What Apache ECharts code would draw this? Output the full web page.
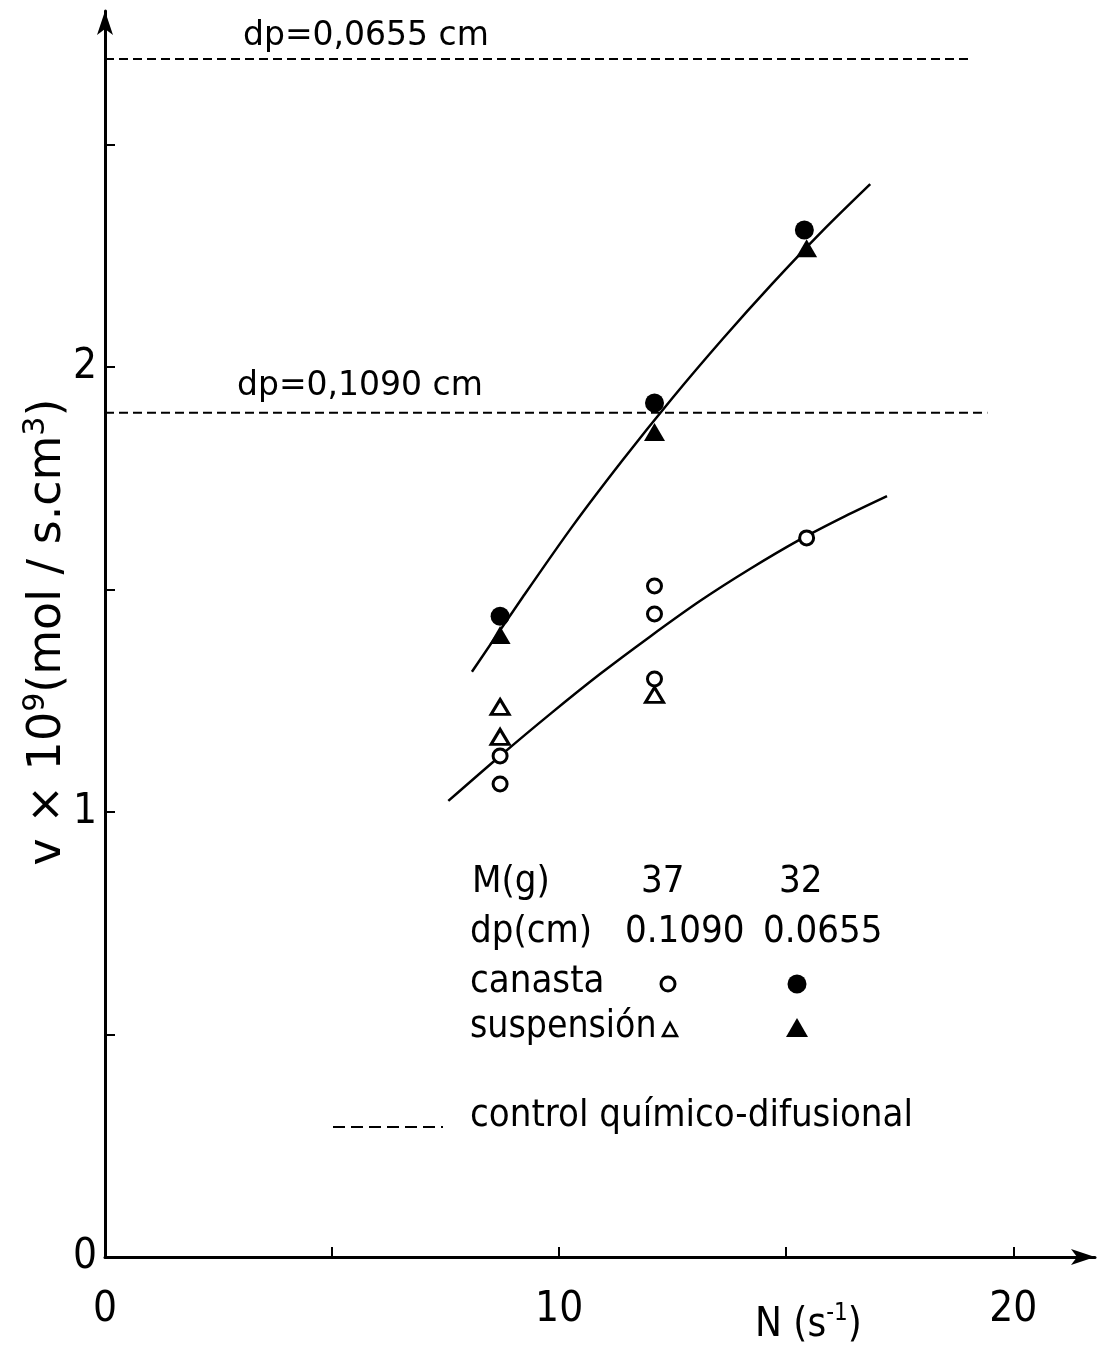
<!DOCTYPE html>
<html><head><meta charset="utf-8">
<script src="https://cdn.jsdelivr.net/npm/echarts@6/dist/echarts.min.js"></script>
<style>html,body{margin:0;padding:0;background:#fff}#c{width:1104px;height:1350px}</style>
</head><body><div id="c"></div>
<script>
// ---- data ----
const xTicks = [0, 5, 10, 15, 20];
const xTickLabels = [0, 10, 20];
const yTicks = [0, 0.5, 1, 1.5, 2, 2.5];
const yTickLabels = [0, 1, 2];

// canasta dp=0.0655 (filled circles)
const canastaFine = [[8.7, 1.440], [12.1, 1.919], [15.4, 2.308]];
// suspension dp=0.0655 (filled triangles)
const suspFine = [[8.7, 1.398], [12.1, 1.854], [15.45, 2.267]];
// canasta dp=0.1090 (open circles)
const canastaCoarse = [[8.7, 1.126], [8.7, 1.063], [12.1, 1.508], [12.1, 1.445], [12.1, 1.299], [15.45, 1.616]];
// suspension dp=0.1090 (open triangles)
const suspCoarse = [[8.7, 1.236], [8.7, 1.169], [12.1, 1.263]];

// hand-drawn fit curves
const fitUpper = [[8.08, 1.315], [9.2, 1.483], [10.3, 1.643], [11.4, 1.791], [12.5, 1.931], [13.6, 2.063], [14.7, 2.188], [15.8, 2.306], [16.85, 2.411]];
const fitLower = [[7.56, 1.025], [8.7, 1.126], [9.8, 1.220], [10.9, 1.310], [12.0, 1.394], [13.1, 1.474], [14.2, 1.546], [15.3, 1.612], [16.3, 1.665], [17.22, 1.710]];

// chemical-diffusional control limits
const limitFine = [[0, 2.692], [19.05, 2.692]];
const limitCoarse = [[0, 1.897], [19.43, 1.897]];

const NARROW = "'Liberation Sans Narrow', 'DejaVu Sans Condensed', 'Liberation Sans', sans-serif";
const WIDE = "'DejaVu Sans', sans-serif";

const chart = echarts.init(document.getElementById('c'));
const dash = [9, 5];
const LF = "38px " + NARROW;
chart.setOption({
  animation: false,
  backgroundColor: '#fff',
  grid: { left: 105, top: 11, width: 990, height: 1246, containLabel: false },
  xAxis: {
    type: 'value', min: 0, max: 21.8,
    splitLine: { show: false },
    axisLine: { show: true, lineStyle: { color: '#000', width: 3 }, symbol: ['none', 'arrow'], symbolSize: [12, 24] },
    axisTick: { show: true, inside: true, length: 10, lineStyle: { color: '#000', width: 2 }, customValues: xTicks },
    axisLabel: { show: true, color: '#000', fontFamily: NARROW, fontSize: 42, margin: 32, customValues: xTickLabels },
  },
  yAxis: {
    type: 'value', min: 0, max: 2.8,
    splitLine: { show: false },
    axisLine: { show: true, lineStyle: { color: '#000', width: 3 }, symbol: ['none', 'arrow'], symbolSize: [12, 24] },
    axisTick: { show: true, inside: true, length: 10, lineStyle: { color: '#000', width: 2 }, customValues: yTicks },
    axisLabel: { show: true, color: '#000', fontFamily: NARROW, fontSize: 42, margin: 8, customValues: yTickLabels },
  },
  series: [
    { type: 'line', data: limitFine, symbol: 'none', lineStyle: { color: '#000', width: 2, type: dash }, z: 1 },
    { type: 'line', data: limitCoarse, symbol: 'none', lineStyle: { color: '#000', width: 2, type: dash }, z: 1 },
    { type: 'line', data: fitUpper, smooth: 0.3, symbol: 'none', lineStyle: { color: '#000', width: 2.5 }, z: 2 },
    { type: 'line', data: fitLower, smooth: 0.3, symbol: 'none', lineStyle: { color: '#000', width: 2.5 }, z: 2 },
    { type: 'scatter', data: canastaFine, symbol: 'circle', symbolSize: 19, itemStyle: { color: '#000', opacity: 1 }, z: 5 },
    { type: 'scatter', data: suspFine, symbol: 'triangle', symbolSize: [21, 18], itemStyle: { color: '#000', opacity: 1 }, z: 5 },
    { type: 'scatter', data: canastaCoarse, symbol: 'circle', symbolSize: 14, itemStyle: { color: '#fff', borderColor: '#000', borderWidth: 3, opacity: 1 }, z: 5 },
    { type: 'scatter', data: suspCoarse, symbol: 'triangle', symbolSize: [18, 15], itemStyle: { color: '#fff', borderColor: '#000', borderWidth: 3, opacity: 1 }, z: 5 },
  ],
  graphic: [
    { type: 'text', x: 46, y: 632, rotation: Math.PI / 2, style: {
        text: '{a|v × 10}{s|9}{a|(mol / s.cm}{s|3}{a|)}',
        align: 'center', verticalAlign: 'middle',
        rich: {
          a: { fontFamily: WIDE, fontSize: 46, fill: '#000', verticalAlign: 'bottom', lineHeight: 50 },
          s: { fontFamily: WIDE, fontSize: 30, fill: '#000', verticalAlign: 'top', lineHeight: 50, padding: [0, 0, 18, 0] }
        } } },
    { type: 'text', left: 243, top: 20, style: { text: 'dp=0,0655 cm', font: "33px 'DejaVu Sans', sans-serif", fill: '#000' } },
    { type: 'text', left: 237, top: 370, style: { text: 'dp=0,1090 cm', font: "33px 'DejaVu Sans', sans-serif", fill: '#000' } },
    { type: 'text', left: 755, top: 1302, style: {
        text: '{a|N (s}{s|-1}{a|)}',
        rich: {
          a: { fontFamily: NARROW, fontSize: 40, fill: '#000', verticalAlign: 'bottom', lineHeight: 44 },
          s: { fontFamily: NARROW, fontSize: 24, fill: '#000', verticalAlign: 'top', lineHeight: 44, padding: [0, 0, 14, 0] }
        } } },
    // legend block
    { type: 'text', left: 472, top: 863, style: { text: 'M(g)', font: LF, fill: '#000' } },
    { type: 'text', left: 641, top: 863, style: { text: '37', font: LF, fill: '#000' } },
    { type: 'text', left: 779, top: 863, style: { text: '32', font: LF, fill: '#000' } },
    { type: 'text', left: 470, top: 913, style: { text: 'dp(cm)', font: LF, fill: '#000' } },
    { type: 'text', left: 625, top: 913, style: { text: '0.1090', font: LF, fill: '#000' } },
    { type: 'text', left: 763, top: 913, style: { text: '0.0655', font: LF, fill: '#000' } },
    { type: 'text', left: 470, top: 963, style: { text: 'canasta', font: LF, fill: '#000' } },
    { type: 'text', left: 470, top: 1009, style: { text: 'suspensión', font: "37px " + NARROW, fill: '#000' } },
    { type: 'circle', shape: { cx: 668, cy: 984, r: 7 }, style: { fill: '#fff', stroke: '#000', lineWidth: 3 } },
    { type: 'circle', shape: { cx: 797, cy: 984, r: 9.5 }, style: { fill: '#000' } },
    { type: 'polygon', shape: { points: [[670, 1023], [663, 1036], [677, 1036]] }, style: { fill: '#fff', stroke: '#000', lineWidth: 2.5 } },
    { type: 'polygon', shape: { points: [[797, 1018], [786, 1037], [808, 1037]] }, style: { fill: '#000' } },
    { type: 'line', shape: { x1: 333, y1: 1127, x2: 443, y2: 1127 }, style: { stroke: '#000', lineWidth: 2, lineDash: [12, 6] } },
    { type: 'text', left: 470, top: 1097, style: { text: 'control químico-difusional', font: LF, fill: '#000' } },
  ]
});
</script></body></html>
